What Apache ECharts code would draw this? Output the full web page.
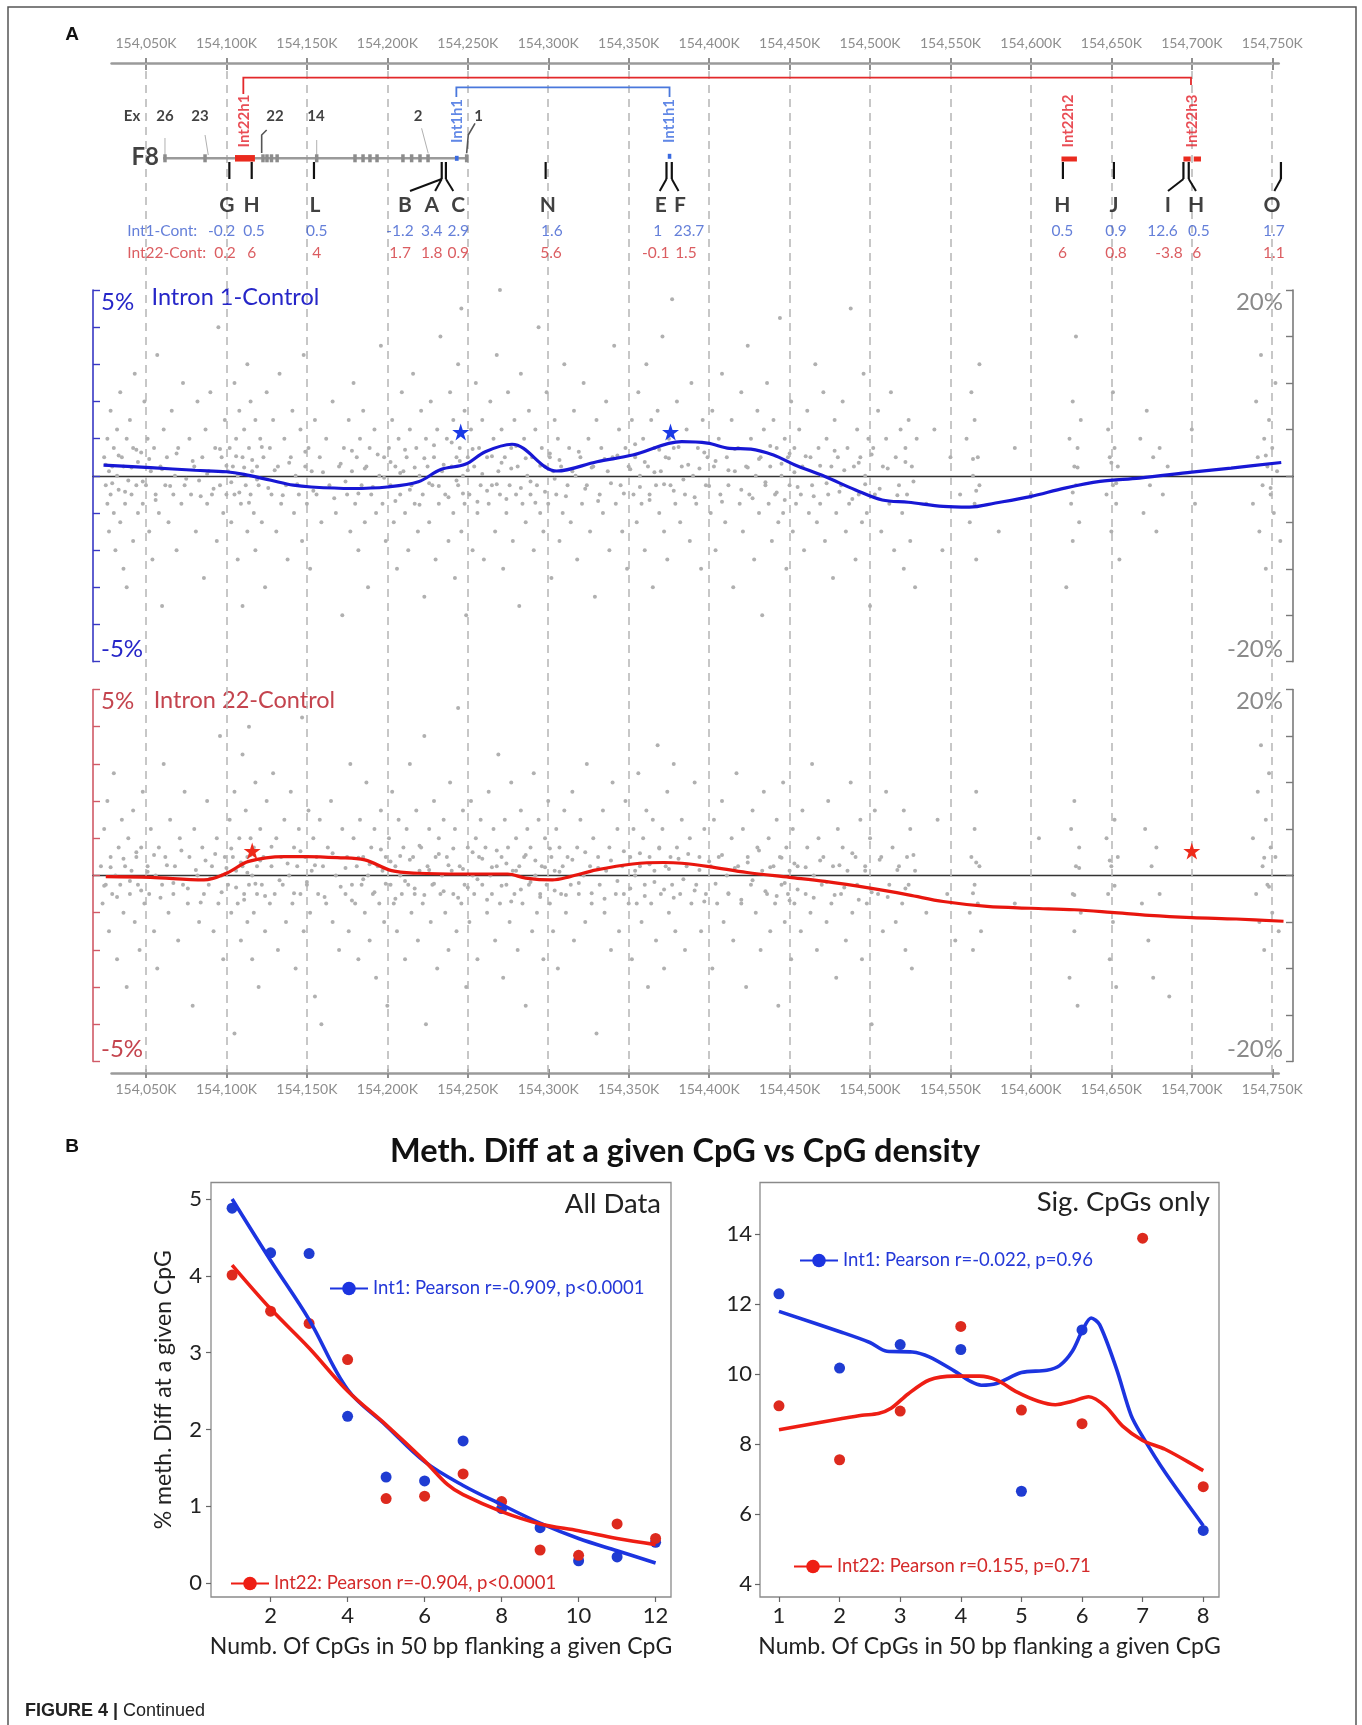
<!DOCTYPE html>
<html><head><meta charset="utf-8">
<script src="https://cdn.jsdelivr.net/npm/echarts@6/dist/echarts.min.js"></script>
<style>html,body{margin:0;padding:0;background:#fff}#c{width:1362px;height:1725px}</style>
</head><body><div id="c"></div>
<script>
// ================= DATA : panel A =================
const genomicTicks = [154050,154100,154150,154200,154250,154300,154350,154400,154450,154500,154550,154600,154650,154700,154750];
const geneF8 = [154060.6, 154250.1];
const exonPositions = [154061.8,154086.7,154122.7,154125.2,154128,154131.5,154156.1,154179.9,154184.9,154189.2,154193.6,154209.7,154215.1,154220.3,154225.3,154249.3];
const exonLabels = ['Ex','26','23','22','14','2','1'];
const exonLabelPos = [154041.3,154061.8,154083.6,154130.2,154155.7,154219.1,154256.7];
const exonLeaders = [[154061.8,154061.8],[154086.7,154088.7],[154125,154121.9,154121.9],[154156.1,154156.1],[154221.3,154225.4],[154254.5,154250.3,154249.3]];
const probeLetters = ['G','H','L','B','A','C','N','E','F','H','J','I','H','O'];
const probeLetterPos = [154100.2,154115.7,154155,154211,154227.6,154244.1,154299.7,154370,154381.9,154619.6,154651.6,154685.2,154702.6,154749.9];
const int1Cont = ['-0.2','0.5','0.5','-1.2','3.4','2.9','1.6','1','23.7','0.5','0.9','12.6','0.5','1.7'];
const int1ContPos = [154097,154117.1,154156.1,154207.9,154227.6,154244.1,154302.3,154368,154387.5,154619.6,154652.9,154681.8,154704.4,154751];
const int22Cont = ['0.2','6','4','1.7','1.8','0.9','5.6','-0.1','1.5','6','0.8','-3.8','6','1.1'];
const int22ContPos = [154099.1,154115.7,154156.1,154207.9,154227.6,154244.1,154301.7,154366.8,154385.6,154619.6,154652.9,154685.8,154703,154751];
const probeStems = [154101.8,154115.7,154154.4,154233.8,154236.4,154298.4,154373.5,154376.8,154619.9,154651.6,154694.8,154698.1,154755.4];
const probeBranches = [[154233.8,154214.1],[154233.8,154229.7],[154236.4,154241],[154373.5,154369.3],[154376.8,154381],[154694.8,154685.2],[154698.1,154702.6],[154755.4,154751.3]];
const int22Repeats = [[154105.3,154117.7],[154619,154628.6],[154694.8,154699.3],[154701.2,154705.7]];
const int1Repeats = [[154242.0,154244.3],[154374.3,154376.5]];
const repeatLabels = ['Int22h1','Int1h1','Int1h1','Int22h2','Int22h3'];
const repeatLabelPos = [154111.3,154243.7,154375.4,154623,154700];
const repeatLabelIsInt1 = [false,true,true,false,false];
const int22Bracket = [154110.5,154699.5];
const int1Bracket = [154242.9,154375.4];

// LOESS curves (left axis, %)
const loessInt1 = [[154023.6,0.29],[154052.8,0.22],[154080.5,0.15],[154100,0.11],[154111,0.04],[154127.7,-0.12],[154141.6,-0.25],[154152.7,-0.30],[154177.7,-0.34],[154199.9,-0.30],[154219.3,-0.16],[154233.2,0.17],[154248.4,0.31],[154260.9,0.65],[154277.5,0.85],[154305.3,0.13],[154330.3,0.38],[154352.5,0.56],[154383,0.92],[154399,0.88],[154412.7,0.74],[154426,0.72],[154440,0.56],[154453,0.30],[154472,-0.02],[154491,-0.38],[154507.6,-0.65],[154523.8,-0.71],[154545.5,-0.82],[154561.8,-0.84],[154578,-0.73],[154599.7,-0.56],[154621,-0.33],[154643,-0.15],[154667.5,-0.06],[154700,0.10],[154724.4,0.21],[154755.6,0.36]];
const loessInt22 = [[154025,-0.03],[154052.8,-0.05],[154086,-0.12],[154100,0.06],[154113.8,0.38],[154136,0.51],[154150,0.51],[154169,0.48],[154186,0.42],[154202.6,0.13],[154219,0.06],[154247,0.04],[154274.8,0.04],[154286,-0.07],[154302.5,-0.12],[154313.6,-0.03],[154330,0.15],[154352.5,0.31],[154372,0.35],[154383,0.33],[154400,0.24],[154423.6,0.08],[154450,-0.05],[154472,-0.16],[154500,-0.34],[154523.8,-0.52],[154545.5,-0.70],[154572.7,-0.83],[154600,-0.88],[154627,-0.92],[154650,-0.99],[154673.6,-1.07],[154700,-1.13],[154727.6,-1.17],[154757,-1.23]];
const starsInt1 = [[154245.6,1.18],[154376,1.18]];
const starsInt22 = [[154116,0.66],[154700,0.66]];

// single-CpG differences (right axis, %), position given as kb offset from 154,000K
const dotsInt1 = [[24,2],[25,-1],[26,4],[26,-3],[27,0.5],[27,-6],[28,7],[28,-2],[29,1],[30,-4],[30,3],[31,-8],[32,0],[32,5],[33,-1.5],[34,9],[34,-5],[35,2],[36,-10],[36,1],[37,-3],[38,4],[38,-12],[39,-0.5],[40,6],[41,-2],[42,3],[42,-7],[43,11],[44,-1],[45,-4],[45,1.5],
[47,2.5],[48,-3],[49,8],[50,-1],[51,4],[52,-6],[53,0.5],[54,-9],[55,3],[56,-2],[57,13],[58,-4],[59,1],[60,-14],[61,5],[62,-1],[63,2],[64,-5],[66,7],[67,-2],[68,0],[69,-8],[70,3],[72,-3],[73,10],[74,-1],
[77,4],[78,-2],[80,1],[81,-6],[82,8],[83,-0.5],[85,2],[86,-11],[87,5],[88,-3],[89,0.5],[90,9],[91,-2],[93,3],[94,-7],[95,16],[96,-1],[97,2],[98,-4],[99,6],[100,-2],[101,0.5],
[102,3],[103,-5],[104,1],[105,10],[105,-2],[106,4],[107,-9],[107,0],[108,7],[109,-3],[110,2],[110,-14],[111,5],[112,-1],[113,12],[113,-6],[114,3],[115,-2],[115,8],[116,0.5],[117,-4],[118,6],[118,-8],[119,1],[120,-1],[121,4],[122,-5],[123,2],[124,-12],[125,9],
[127,3],[128,-2],[129,6],[131,-6],[132,1],[133,11],[134,-3],[136,4],[137,-1],[138,-9],[140,2],[141,7],[142,-4],[143,0],[145,-2],[146,5],[147,-7],[148,13],[149,1],[150,-3],[151,3],[152,-10],[153,0.5],[155,6],[156,-2],[158,2],[159,-5],
[162,4],[164,-1],[166,8],[168,-4],[170,1],[172,-15],[173,3],[175,-2],[176,6],[177,-6],[178,0.5],[179,10],[180,-3],[181,2],[182,-8],[183,4],[184,-1],[185,7],[186,-5],[187,1],[188,-12],[189,3],[190,-2],[192,5],[193,-4],[195,0],[196,14],[197,-3],[198,2],[199,-7],
[201,3],[202,-1],[203,6],[204,-5],[205,1],[206,-10],[207,4],[208,-2],[209,9],[210,0.5],[211,-4],[212,2],[213,-8],[214,5],[215,-1],[216,11],[217,-3],[218,3],[219,-6],[220,0],[221,7],[222,-2],[223,-13],[224,4],[225,1],[226,-5],[227,8],[228,-1],[229,2],[230,-9],[231,5],[232,-3],[233,15],[234,0.5],
[236,-2],[237,4],[238,-7],[239,9],[240,1],[241,-4],[241,6],[242,-11],[243,2],[244,-1],[244,12],[245,3],[246,-6],[246,18],[247,0],[248,-3],[248,7],[249,-15],[250,2],[251,-2],[252,5],[253,-8],[254,1],[255,10],[256,-4],[257,3],[258,-1],[259,6],[260,-9],
[262,2],[263,-3],[264,8],[265,-1],[266,4],[267,-6],[268,13],[269,0.5],[270,-2],[270,20],[271,5],[272,-10],[273,2],[274,-4],[275,9],[276,-1],[277,3],[278,-7],[279,6],[280,-2],[281,1],[282,-14],[283,11],[284,-3],[285,4],[286,-5],[287,0],[288,7],[289,-2],[290,2],[291,-8],[292,5],[293,-1],[294,16],[295,-4],[296,3],[297,-6],[298,1],[299,9],[300,-3],[301,2],[302,-11],[303,0.5],[304,6],[305,-2],[306,4],[307,-7],[308,1],[309,-4],[310,12],
[312,-1],[313,3],[314,-5],[316,7],[317,0],[318,-9],[320,2],[321,-3],[322,10],[324,-1],[325,4],[326,-6],[328,1],[329,-13],[330,6],[332,-2],[333,3],[334,-4],[336,8],[337,0.5],[338,-8],[340,2],[341,14],[342,-3],[344,5],[345,-1],[346,-6],[348,3],[349,-10],[350,1],
[352,6],[353,-2],[354,2],[355,-5],[356,9],[357,0],[358,-3],[359,4],[360,-8],[361,12],[362,1],[363,-2],[364,6],[365,-12],[366,3],[367,-1],[368,7],[369,-4],[370,0.5],[371,15],[372,-6],[373,2],[374,-9],[375,4],[376,-1],[377,19],[378,3],[379,-3],[380,8],[382,-5],[383,1],[385,-2],[386,5],[388,-7],[389,10],[390,0],[392,-3],[393,3],[395,-10],[396,6],[398,-1],[399,2],
[401,-4],[402,7],[403,1],[404,-8],[406,4],[407,-2],[408,11],[410,-5],[411,2],[412,-1],[414,6],[415,-12],[416,0.5],[418,3],[419,-3],[420,9],[421,-6],[423,1],[424,14],[425,-2],[426,4],[428,-9],[429,0],[430,7],[431,-4],[432,2],[433,-15],[434,5],[435,-1],[436,10],[437,-3],[438,1],[439,-7],[440,6],[441,-2],[442,3],[443,-5],[444,17],[445,0],[446,-4],[447,4],[448,-10],[449,2],[450,-1],[451,8],[452,-6],[453,3],[454,-3],
[456,5],[457,-2],[458,1],[459,-8],[461,7],[462,-4],[463,2],[464,-1],[466,12],[467,-5],[468,3],[469,-3],[470,0],[471,9],[472,-7],[473,4],[474,-2],[476,1],[477,-11],[478,6],[479,-4],[480,2],[482,-1],[483,8],[485,-6],[486,3],[487,-3],[488,18],[490,1],[491,-9],[492,5],[493,-2],[494,2],[495,-5],[496,11],[497,0],[498,-4],[499,4],[500,-14],
[502,3],[503,-2],[505,7],[507,-6],[508,1],[510,4],[512,-3],[513,9],[515,-8],[516,2],[518,-1],[519,5],[520,-4],[521,-10],[522,3],[523,-2],[524,6],[525,-7],[526,1],[528,-12],[529,4],
[535,-3],[540,5],[545,-8],[550,2],[556,-2],[560,4],[562,-5],[563,9],[564,0],[565,-3],[565,6],[566,-9],[567,2],[568,-1],[568,12],[580,-6],[590,3],[600,-2],
[622,-12],[624,4],[625,-3],[626,8],[626,-7],[627,1],[628,-1],[628,15],[629,3],[630,-5],[631,6],
[647,-2],[648,5],[649,2],[650,-6],[651,9],[651,-1],[652,3],[653,-3],[654,1],[655,-9],
[668,4],[670,-4],[672,7],[674,-1],[676,2],[678,-6],[680,3],[682,-2],[685,1],[700,5],[702,-3],
[738,-3],[740,8],[741,2],[742,-6],[743,13],[744,-1],[745,4],[746,-10],[747,1],[748,6],[749,-2],[750,3],[751,-4],[752,10],[753,0.5],[755,-7],
[25,1.2],[29,-0.8],[33,2.2],[37,-1.7],[41,0.9],[44,2.8],[48,-0.6],[52,1.8],[56,-2.6],[60,0.7],[65,-1.1],[69,2.4],[75,-0.3],[79,1.6],[84,-2.2],[88,0.2],[92,-1.4],[96,2.9],[100,1.1],[103,-0.7],[106,2.1],[108,-1.8],[111,0.9],[114,-2.9],[116,1.7],[119,-0.4],[122,3.1],[126,-1.3],[130,0.6],[135,-2.1],[139,1.4],[144,-0.9],[149,2.6],[154,-1.6],[160,0.4],[167,-2.4],[171,1.3],[174,-0.6],[178,2.7],[182,-1.9],[186,0.8],[191,-1.2],[194,2.3],[198,-0.2],[202,1.5],[205,-2.7],[208,0.3],[211,2.8],[214,-1.5],[217,0.9],[220,-3.1],[223,1.9],[226,-0.8],[229,3.3],[232,-1.1],[235,1.2],[238,-2.3],[240,3.6],[243,-0.5],[245,1.6],[247,-1.9],[250,0.6],[253,2.9],[256,-2.8],[259,0.2],[262,-1.6],[265,2.1],[268,-0.9],[271,1.4],[274,-2.5],[277,0.8],[280,3.2],[283,-1.3],[286,1.9],[289,-0.6],[292,-2.9],[295,1.1],[298,-1.7],[301,2.4],[304,-0.3],[307,1.7],[311,-2.2],[315,0.5],[319,2.6],[323,-1.4],[327,0.9],[331,-2.7],[335,1.8],[339,-0.8],[343,2.2],[347,-1.9],[351,0.7],[354,3.4],[357,-1.2],[360,1.5],[363,-2.6],[366,0.4],[369,2.8],[372,-0.9],[375,1.9],[378,-1.6],[381,3.1],[384,-0.4],[387,1.2],[391,-2.3],[394,0.8],[397,2.5],[400,-1.1],[404,1.6],[408,-2.8],[412,0.6],[416,2.9],[420,-1.5],[424,0.9],[427,-2.4],[431,1.8],[435,-0.7],[438,3.2],[442,-1.8],[445,1.3],[447,-2.6],[450,2.4],[453,0.4],[455,-1.2],[460,2.1],[465,-2.2],[469,1.1],[473,-0.8],[478,2.7],[481,-1.7],[484,0.6],[489,-2.5],[493,1.4],[497,-0.9],[501,2.3],[506,-1.4],[511,0.8],[517,-2.1],[522,1.5],[527,-0.6],[564,1.8],[566,-1.6],[626,-1.8],[629,0.9],[650,1.4],[653,-0.8],[746,2.2],[749,-1.3]];

const dotsInt22 = [[22,1],[23,-3],[24,5],[25,-1],[26,8],[27,-6],[28,2],[29,-2],[30,11],[31,0],[32,-9],[33,3],[34,-1],[35,6],[36,-4],[37,1],[38,-12],[39,4],[40,-2],[41,0.5],[42,7],[43,-5],[44,2],[45,-1],[46,-8],[47,3],[48,9],[49,-3],
[51,1],[52,-2],[53,5],[55,-6],[56,0],[57,-10],[58,3],[60,-1],[61,12],[62,2],[64,-4],[65,6],[67,-2],[68,1],[70,-7],[71,4],[73,-1],[74,9],[76,-3],[77,2],[79,-14],[80,5],[82,0],[83,-5],[85,3],[86,-2],[88,8],[89,-1],[91,1],[92,-6],[94,4],[95,-3],[96,15],[97,0],[98,-9],[99,2],
[101,-1],[102,6],[103,-4],[104,2],[105,-17],[105,9],[106,0.5],[107,-3],[108,4],[109,-7],[110,13],[110,1],[111,-2],[112,7],[113,-5],[113,2],[114,16],[114,-1],[115,4],[116,-9],[116,0],[117,3],[117,-4],[118,10],[119,-2],[119,1],[120,-12],[121,5],[122,-1],[123,2],[124,-6],[125,8],
[127,-3],[128,1],[129,11],[130,-2],[131,4],[132,-8],[134,2],[135,-1],[136,6],[137,-5],[139,0],[140,9],[141,-3],[142,3],[143,-10],[144,1],[145,5],[146,-2],[147,17],[148,-6],[149,2],[150,-1],[151,7],[152,-4],[153,0.5],[154,4],[155,-13],[156,2],[157,-2],[158,6],[159,-16],[160,1],
[162,-3],[163,3],[165,8],[166,-5],[168,0],[170,-8],[172,5],[174,-2],[175,2],[176,-6],[177,12],[178,-1],[179,4],[180,-3],[181,1],[182,-9],[183,6],[184,-1],[185,2],[186,-4],[187,10],[188,0],[189,-7],[190,3],[191,-2],[192,5],[193,-11],[194,1],[195,-3],[196,7],[197,0.5],[198,-5],[199,2],
[200,-14],[201,4],[202,-1],[203,9],[204,-3],[205,1],[206,-6],[207,6],[208,0],[209,-2],[210,3],[211,-9],[212,5],[213,-1],[214,12],[215,-4],[216,2],[217,-2],[218,7],[219,-7],[220,0.5],[221,3],[222,-3],[223,15],[224,-16],[225,1],[226,5],[227,-5],[228,-1],[229,8],[230,2],[231,-10],[232,4],[233,-2],[234,0],[235,6],
[236,-4],[237,2],[238,-8],[239,10],[240,0.5],[241,-2],[242,5],[243,-6],[244,18],[245,1],[246,-3],[247,7],[248,-1],[249,-12],[250,3],[251,-5],[252,8],[253,0],[254,-2],[255,4],[256,-9],[257,2],[258,6],[259,-1],
[261,3],[262,-4],[263,9],[264,0],[265,-2],[266,5],[267,-7],[268,1],[269,13],[270,-3],[271,2],[272,-11],[273,6],[274,-1],[275,3],[276,-5],[277,10],[278,0.5],[279,-2],[280,4],[281,-8],[282,1],[283,7],[284,-3],[285,2],[286,-14],[287,5],[288,-1],[289,3],[290,-6],[291,11],[292,0],[293,-4],[294,6],[295,-2],[296,1],[297,-9],[298,4],[299,-1],[300,8],[301,-3],[302,2],[303,-6],[304,0.5],[305,5],[306,-10],[307,3],[308,-2],[309,1],[310,7],
[311,-4],[312,2],[314,-1],[315,9],[316,-7],[318,3],[319,-2],[320,6],[322,0],[323,-5],[324,12],[326,1],[327,-3],[328,4],[330,-17],[331,2],[332,-1],[334,7],[335,-4],[336,0.5],[338,3],[339,-8],[340,10],[342,-2],[343,5],[344,-6],[346,1],[347,-2],[348,8],[350,-3],
[351,2],[352,-9],[353,5],[354,0],[355,-3],[356,11],[357,1],[358,-5],[359,4],[360,-1],[361,7],[362,-12],[363,2],[364,-3],[365,6],[366,0.5],[367,-7],[368,14],[369,3],[370,-2],[371,5],[372,-10],[373,1],[374,9],[375,-4],[376,2],[377,-1],[378,12],[379,-6],[380,3],[382,-2],[383,6],[385,-8],[386,1],[388,4],[389,-3],[391,10],[392,-1],[394,2],[395,-6],[397,5],[398,-2],
[401,1],[402,-10],[403,6],[405,-3],[406,2],[408,8],[409,-5],[411,0],[412,-2],[414,4],[415,-7],[417,11],[418,1],[420,-3],[421,5],[423,-12],[424,2],[426,-1],[427,7],[429,-4],[430,3],[432,-8],[433,0.5],[434,9],[436,-2],[437,4],[438,-6],[440,1],[441,-3],[442,6],[443,-14],[444,2],[445,-1],[446,10],[447,-5],[448,3],[449,-2],[450,0.5],[451,-9],[452,5],[453,-3],
[455,1],[457,-6],[458,7],[460,-2],[461,3],[463,-4],[464,12],[465,0],[467,-8],[468,4],[470,-1],[471,2],[473,-5],[474,8],[476,-3],[477,1],[479,-11],[480,5],[482,-2],[483,3],[485,-7],[486,0.5],[488,10],[489,-4],[491,2],[492,-1],[494,6],[495,-9],[497,1],[498,-3],[500,4],[501,-16],[503,7],[505,-2],[507,2],[508,-6],[510,9],[512,-1],[514,3],[516,-5],[518,1],[520,-3],[521,7],[522,-8],[523,2],[524,-1],[525,5],[526,-10],[528,0.5],
[535,-4],[542,6],[548,-2],[553,-7],[562,-4],[563,2],[564,-8],[565,5],[565,-1],[566,9],[567,-3],[568,1],[569,-6],[590,-3],[605,4],
[624,-11],[625,5],[626,-2],[627,8],[627,-6],[628,1],[629,-14],[630,3],[631,-4],
[647,4],[648,-2],[649,-9],[650,1],[651,-5],[652,6],[653,-12],[654,2],
[669,-3],[671,5],[673,-7],[675,1],[676,-11],[678,3],[680,-2],[686,-13],
[738,4],[740,-2],[741,9],[742,-5],[743,14],[744,1],[745,-8],[746,6],[747,-1],[748,11],[749,3],[750,-4],[752,2],[754,-6],
[24,-1.1],[28,0.9],[32,-2.3],[36,1.8],[40,-0.6],[44,2.5],[47,-1.6],[51,0.4],[55,2.2],[59,-2.4],[63,1.1],[67,-0.8],[72,2.7],[76,-1.4],[81,0.6],[84,-2.9],[87,1.6],[90,-0.3],[93,2.3],[97,-1.8],[100,0.8],[103,2.9],[106,-1.3],[109,1.4],[111,-2.6],[113,0.3],[115,2.2],[118,-0.9],[121,1.6],[124,-2.2],[128,3.1],[133,-0.5],[138,1.3],[142,-1.9],[146,2.6],[150,-0.7],[155,1.1],[161,-2.3],[166,2.4],[171,-1.2],[174,0.8],[178,-2.7],[182,1.9],[185,-0.4],[189,1.2],[192,-1.8],[196,2.8],[199,-0.9],[202,1.5],[205,-2.5],[208,2.1],[211,-0.6],[214,1.7],[217,-1.4],[220,3.2],[223,-2.1],[226,0.6],[229,-0.9],[232,2.3],[235,-1.7],[238,1.1],[241,2.9],[244,-2.4],[247,0.7],[250,-1.3],[253,2.5],[256,-0.4],[259,1.8],[262,-2.6],[265,0.9],[268,2.7],[271,-1.1],[274,1.3],[277,-2.8],[280,0.5],[283,-1.5],[286,2.2],[289,-0.7],[292,1.6],[295,-2.3],[298,0.9],[301,2.9],[304,-1.6],[307,0.4],[311,-2.1],[315,1.7],[319,-0.8],[323,2.5],[327,-1.9],[331,0.8],[335,-2.5],[339,1.6],[343,-0.6],[347,2.6],[351,-1.4],[354,0.5],[357,2.4],[360,-2.2],[363,1.2],[366,-0.7],[369,2.9],[372,-1.5],[375,0.7],[378,-2.4],[381,1.8],[384,-0.4],[387,2.3],[391,-1.6],[394,0.6],[397,-2.8],[400,1.5],[404,-0.9],[408,2.2],[412,-1.9],[416,0.8],[420,-2.6],[424,1.4],[427,-0.5],[431,2.7],[435,-1.7],[438,0.9],[442,-2.2],[445,1.9],[447,-0.8],[450,-2.7],[453,1.3],[455,-1.5],[460,0.9],[465,-2.4],[469,1.6],[473,-0.7],[478,-2.1],[481,1.1],[484,-1.3],[489,2.4],[493,-2.6],[497,0.5],[501,-1.8],[506,1.7],[511,-2.3],[517,0.6],[522,-1.4],[527,2.2],[564,-1.9],[566,1.4],[627,-2.1],[630,0.8],[649,1.6],[652,-1.1],[745,1.9],[748,-1.2]];

// ================= DATA : panel B =================
const allInt1Pts  = [[1,4.88],[2,4.30],[3,4.29],[4,2.17],[5,1.38],[6,1.33],[7,1.85],[8,0.97],[9,0.72],[10,0.29],[11,0.34],[12,0.53]];
const allInt22Pts = [[1,4.01],[2,3.54],[3,3.38],[4,2.91],[5,1.10],[6,1.13],[7,1.42],[8,1.06],[9,0.43],[10,0.36],[11,0.77],[12,0.58]];
const allInt1Fit  = [[1,5.0],[2,4.2],[3,3.43],[4,2.52],[5,2.05],[6,1.58],[7,1.27],[8,1.02],[9,0.78],[10,0.58],[11,0.42],[12,0.26]];
const allInt22Fit = [[1,4.14],[2,3.57],[3,3.06],[4,2.5],[5,2.06],[6,1.59],[6.6,1.28],[7,1.15],[8,0.93],[9,0.77],[10,0.68],[11,0.58],[12,0.50]];
const sigInt1Pts  = [[1,12.29],[2,10.17],[3,10.84],[4,10.70],[5,6.65],[6,11.26],[8,5.53]];
const sigInt22Pts = [[1,9.09],[2,7.55],[3,8.94],[4,11.36],[5,8.97],[6,8.58],[7,13.88],[8,6.78]];
const sigInt1Fit  = [[1,11.79],[2.02,11.2],[2.5,10.9],[2.78,10.65],[3.2,10.63],[3.48,10.49],[3.89,10.09],[4.17,9.78],[4.34,9.68],[4.59,9.73],[5.0,10.04],[5.42,10.11],[5.63,10.24],[5.84,10.65],[6.01,11.26],[6.15,11.6],[6.29,11.41],[6.57,10.14],[6.81,8.82],[7.0,8.21],[7.37,7.19],[8.0,5.67]];
const sigInt22Fit = [[1,8.41],[2.02,8.72],[2.37,8.82],[2.64,8.87],[2.85,9.02],[3.13,9.43],[3.48,9.83],[3.89,9.94],[4.31,9.94],[4.59,9.83],[4.93,9.48],[5.28,9.22],[5.56,9.12],[5.84,9.22],[6.11,9.35],[6.39,9.07],[6.67,8.51],[7.0,8.1],[7.37,7.85],[8.0,7.24]];
const allTicksX = [2,4,6,8,10,12], allTicksY = [0,1,2,3,4,5];
const sigTicksX = [1,2,3,4,5,6,7,8], sigTicksY = [4,6,8,10,12,14];
const legAll1 = 'Int1: Pearson r=-0.909, p<0.0001', legAll22 = 'Int22: Pearson r=-0.904, p<0.0001';
const legSig1 = 'Int1: Pearson r=-0.022, p=0.96', legSig22 = 'Int22: Pearson r=0.155, p=0.71';

// ================= LAYOUT =================
const F = 'Lato, "Open Sans", sans-serif';
const G0 = 154000;
const GX = {left: 93, width: 1200, min: 154017.06, max: 154762.9};
const AX = {left: 111.6, width: 1167.1, min: 154028.6, max: 154754.0};
const ROW = {redBr: 77.7, redDropL: 94, redDropR: 85, blueBr: 87.3, blueDrop: 97, exonLbl: 116, repeatLbl: 121,
  gene: 158.3, rep: 159, stemTop: 162, stemBot: 179, branchEnd: 191, letter: 205, int1: 230.7, int22: 253.3};
const leaderRows = [[138,155],[135,155],[130,135,153],[140,155],[128.3,153.3],[123.3,135,153.3]];
const leaderDark = [false,false,true,false,false,true];
const BLUE_T = '#2626c8', RED_T = '#c4444e';
const kfmt = v => String(v).replace(/\B(?=(\d{3})+(?!\d))/g, ',') + 'K';
const STAR = 'path://M50,0 L61.2,34.5 L97.6,34.5 L68.2,55.9 L79.4,90.5 L50,69.1 L20.6,90.5 L31.8,55.9 L2.4,34.5 L38.8,34.5 Z';

function textSeries(names, xs, row, label) {
  return {type: 'scatter', xAxisIndex: 0, yAxisIndex: 0, symbolSize: 1, silent: true, z: 6,
    itemStyle: {color: 'rgba(0,0,0,0)'},
    label: Object.assign({show: true, position: 'inside', fontFamily: F, formatter: p => p.name}, label),
    data: names.map((n, i) => ({name: n, value: [xs[i], Array.isArray(row) ? row[i] : row]}))};
}
function seg(coords, color, width, extra) {
  return {coords, lineStyle: Object.assign({color, width, opacity: 1, cap: 'butt'}, extra || {})};
}

const headerLines = [];
headerLines.push(seg([[int22Bracket[0], ROW.redDropL],[int22Bracket[0], ROW.redBr],[int22Bracket[1], ROW.redBr],[int22Bracket[1], ROW.redDropR]], '#e3292b', 1.8));
headerLines.push(seg([[int1Bracket[0], ROW.blueDrop],[int1Bracket[0], ROW.blueBr],[int1Bracket[1], ROW.blueBr],[int1Bracket[1], ROW.blueDrop]], '#4a78dc', 1.8));
headerLines.push(seg([[geneF8[0], ROW.gene],[geneF8[1], ROW.gene]], '#9a9a9a', 2.6));
exonLeaders.forEach((gs, i) => headerLines.push(seg(gs.map((g, j) => [g, leaderRows[i][j]]), leaderDark[i] ? '#555' : '#b0b0b0', leaderDark[i] ? 1.6 : 1)));
int22Repeats.forEach((r, i) => headerLines.push(seg([[r[0], i === 0 ? ROW.gene : ROW.rep],[r[1], i === 0 ? ROW.gene : ROW.rep]], '#ea2a1e', i === 0 ? 6.5 : 5)));
int1Repeats.forEach((r, i) => headerLines.push(seg([[r[0], i === 0 ? ROW.gene : ROW.gene - 2],[r[1], i === 0 ? ROW.gene : ROW.gene - 2]], '#3a6ae0', 5)));
probeStems.forEach(g => headerLines.push(seg([[g, ROW.stemTop],[g, ROW.stemBot]], '#111', 2.2)));
probeBranches.forEach(b => headerLines.push(seg([[b[0], ROW.stemBot],[b[1], ROW.branchEnd]], '#111', 2)));

const series = [
  {type: 'lines', coordinateSystem: 'cartesian2d', xAxisIndex: 1, yAxisIndex: 1, silent: true, z: 1,
   lineStyle: {color: '#b9b9b9', width: 1.6, type: [8, 6], opacity: 1},
   data: genomicTicks.map(t => ({coords: [[t, 0],[t, 1]]}))},
  {type: 'lines', coordinateSystem: 'cartesian2d', xAxisIndex: 0, yAxisIndex: 0, polyline: true, silent: true, z: 4, data: headerLines},
  {type: 'scatter', xAxisIndex: 0, yAxisIndex: 0, symbol: 'rect', symbolSize: [3.5, 8], silent: true, z: 4,
   itemStyle: {color: '#8c8c8c', opacity: 1}, data: exonPositions.map(g => [g, ROW.gene])},
  textSeries(exonLabels, exonLabelPos, ROW.exonLbl, {fontSize: 15, fontWeight: 'bold', color: '#111'}),
  textSeries(repeatLabels, repeatLabelPos, ROW.repeatLbl, {fontSize: 15, fontWeight: 'bold', rotate: 90}),
  textSeries(['F8'], [154049.5], ROW.gene - 1, {fontSize: 24, fontWeight: 'bold', color: '#111'}),
  textSeries(probeLetters, probeLetterPos, ROW.letter, {fontSize: 21, fontWeight: 'bold', color: '#111'}),
  textSeries(int1Cont, int1ContPos, ROW.int1, {fontSize: 15.5, color: '#3d5fd0'}),
  textSeries(int22Cont, int22ContPos, ROW.int22, {fontSize: 15.5, color: '#d2343a'}),
  textSeries(['Int1-Cont:'], [154038], ROW.int1, {fontSize: 15.5, color: '#3d5fd0', position: 'right', distance: 0}),
  textSeries(['Int22-Cont:'], [154038], ROW.int22, {fontSize: 15.5, color: '#d2343a', position: 'right', distance: 0}),
  {type: 'scatter', xAxisIndex: 4, yAxisIndex: 4, symbolSize: 4, silent: true, z: 2,
   itemStyle: {color: '#b0b0b0', opacity: 1}, data: dotsInt1.map(d => [G0 + d[0], d[1]])},
  {type: 'line', xAxisIndex: 4, yAxisIndex: 3, smooth: 0.35, showSymbol: false, silent: true, z: 3,
   lineStyle: {color: '#1717d4', width: 3.2}, data: loessInt1},
  {type: 'scatter', xAxisIndex: 4, yAxisIndex: 3, symbol: STAR, symbolSize: 17, silent: true, z: 4,
   itemStyle: {color: '#1a3ae6', opacity: 1}, data: starsInt1},
  {type: 'scatter', xAxisIndex: 5, yAxisIndex: 6, symbolSize: 4, silent: true, z: 2,
   itemStyle: {color: '#b0b0b0', opacity: 1}, data: dotsInt22.map(d => [G0 + d[0], d[1]])},
  {type: 'line', xAxisIndex: 5, yAxisIndex: 5, smooth: 0.35, showSymbol: false, silent: true, z: 3,
   lineStyle: {color: '#e8160e', width: 3.2}, data: loessInt22},
  {type: 'scatter', xAxisIndex: 5, yAxisIndex: 5, symbol: STAR, symbolSize: 17, silent: true, z: 4,
   itemStyle: {color: '#ee2a1a', opacity: 1}, data: starsInt22},
  {name: 'pA1', type: 'scatter', xAxisIndex: 8, yAxisIndex: 8, symbolSize: 11, silent: true, z: 3, itemStyle: {color: '#1f3cd2', opacity: 1}, data: allInt1Pts},
  {name: 'pA22', type: 'scatter', xAxisIndex: 8, yAxisIndex: 8, symbolSize: 11, silent: true, z: 3, itemStyle: {color: '#dd2a1e', opacity: 1}, data: allInt22Pts},
  {name: legAll1, type: 'line', xAxisIndex: 8, yAxisIndex: 8, smooth: 0.35, symbol: 'circle', showSymbol: false, silent: true, z: 4,
   itemStyle: {color: '#1c34e0'}, lineStyle: {color: '#1c34e0', width: 3.6}, data: allInt1Fit},
  {name: legAll22, type: 'line', xAxisIndex: 8, yAxisIndex: 8, smooth: 0.35, symbol: 'circle', showSymbol: false, silent: true, z: 5,
   itemStyle: {color: '#ee1e14'}, lineStyle: {color: '#ee1e14', width: 3.6}, data: allInt22Fit},
  {name: 'pS1', type: 'scatter', xAxisIndex: 9, yAxisIndex: 9, symbolSize: 11, silent: true, z: 3, itemStyle: {color: '#1f3cd2', opacity: 1}, data: sigInt1Pts},
  {name: 'pS22', type: 'scatter', xAxisIndex: 9, yAxisIndex: 9, symbolSize: 11, silent: true, z: 3, itemStyle: {color: '#dd2a1e', opacity: 1}, data: sigInt22Pts},
  {name: legSig1, type: 'line', xAxisIndex: 9, yAxisIndex: 9, smooth: 0.3, symbol: 'circle', showSymbol: false, silent: true, z: 4,
   itemStyle: {color: '#1c34e0'}, lineStyle: {color: '#1c34e0', width: 3.6}, data: sigInt1Fit},
  {name: legSig22, type: 'line', xAxisIndex: 9, yAxisIndex: 9, smooth: 0.3, symbol: 'circle', showSymbol: false, silent: true, z: 5,
   itemStyle: {color: '#ee1e14'}, lineStyle: {color: '#ee1e14', width: 3.6}, data: sigInt22Fit}
];
series[4].data.forEach((d, i) => { d.label = {color: repeatLabelIsInt1[i] ? '#3a6ae0' : '#e3202a'}; });

const hidden = {show: false};
const noAx = {axisLine: hidden, axisTick: hidden, axisLabel: hidden, splitLine: hidden};
function genAxisTop(grid, pos, inside, len, labels, margin) {
  return {gridIndex: grid, type: 'value', position: pos, min: AX.min, max: AX.max,
    axisLine: {show: !inside, onZero: false, lineStyle: {color: '#9a9a9a', width: 2.6}},
    axisTick: {show: true, inside, length: len, customValues: genomicTicks, lineStyle: {color: '#8f8f8f', width: 2}},
    axisLabel: labels ? {show: true, customValues: genomicTicks, formatter: kfmt, margin, color: '#8d8d8d', fontSize: 14, fontFamily: F} : hidden,
    splitLine: hidden};
}
function pctAxis(grid, pos, max, interval, color, lblColor, margin) {
  return {gridIndex: grid, type: 'value', position: pos, min: -max, max, interval,
    axisLine: {show: true, onZero: false, lineStyle: {color, width: 1.6}},
    axisTick: {show: true, inside: true, length: 7, lineStyle: {color, width: 1.4}},
    axisLabel: {show: true, inside: true, customValues: [-max, max], formatter: '{value}%', color: lblColor, fontSize: 24, fontFamily: F, margin,
      verticalAlignMaxLabel: 'top', verticalAlignMinLabel: 'bottom'},
    splitLine: hidden};
}
function bAxis(grid, min, max, ticks, name, gap, margin) {
  return {gridIndex: grid, type: 'value', min, max, name, nameLocation: 'middle', nameGap: gap,
    nameTextStyle: {fontSize: 23, fontFamily: F, color: '#222'},
    axisLine: {show: false, onZero: false},
    axisTick: {show: true, length: 5, customValues: ticks, lineStyle: {color: '#666', width: 1.2}},
    axisLabel: {show: true, customValues: ticks, fontSize: 22, fontFamily: F, color: '#222', margin},
    splitLine: hidden};
}

const option = {
  backgroundColor: '#fff',
  animation: false,
  grid: [
    {left: GX.left, width: GX.width, top: 0, height: 300},
    {left: GX.left, width: GX.width, top: 63, height: 1010},
    {left: AX.left, width: AX.width, top: 63, height: 1},
    {left: GX.left, width: GX.width, top: 290, height: 371.7},
    {left: GX.left, width: GX.width, top: 689.5, height: 372},
    {left: AX.left, width: AX.width, top: 1072, height: 1},
    {left: 211, width: 460, top: 1182.5, height: 414.5, show: true, borderColor: '#8a8a8a', borderWidth: 1.3},
    {left: 760, width: 459, top: 1182.5, height: 414.5, show: true, borderColor: '#8a8a8a', borderWidth: 1.3}
  ],
  xAxis: [
    Object.assign({gridIndex: 0, type: 'value', min: GX.min, max: GX.max}, noAx),
    Object.assign({gridIndex: 1, type: 'value', min: GX.min, max: GX.max}, noAx),
    genAxisTop(2, 'top', false, 5, true, 13),
    genAxisTop(2, 'top', true, 7, false, 0),
    {gridIndex: 3, type: 'value', min: GX.min, max: GX.max, axisLine: {show: true, onZero: true, lineStyle: {color: '#333', width: 1.3}}, axisTick: hidden, axisLabel: hidden, splitLine: hidden},
    {gridIndex: 4, type: 'value', min: GX.min, max: GX.max, axisLine: {show: true, onZero: true, lineStyle: {color: '#333', width: 1.3}}, axisTick: hidden, axisLabel: hidden, splitLine: hidden},
    genAxisTop(5, 'bottom', false, 5, true, 9),
    genAxisTop(5, 'bottom', true, 4, false, 0),
    bAxis(6, 0.452, 12.4, allTicksX, 'Numb. Of CpGs in 50 bp flanking a given CpG', 38, 8),
    bAxis(7, 0.687, 8.26, sigTicksX, 'Numb. Of CpGs in 50 bp flanking a given CpG', 38, 8)
  ],
  yAxis: [
    Object.assign({gridIndex: 0, type: 'value', min: 0, max: 300, inverse: true}, noAx),
    Object.assign({gridIndex: 1, type: 'value', min: 0, max: 1}, noAx),
    Object.assign({gridIndex: 2, type: 'value', min: 0, max: 1}, noAx),
    pctAxis(3, 'left', 5, 1, '#3838c4', BLUE_T, 8),
    pctAxis(3, 'right', 20, 5, '#7a7a7a', '#8a8a8a', 10),
    pctAxis(4, 'left', 5, 1, '#d05a66', RED_T, 8),
    pctAxis(4, 'right', 20, 5, '#7a7a7a', '#8a8a8a', 10),
    Object.assign({gridIndex: 5, type: 'value', min: 0, max: 1}, noAx),
    bAxis(6, -0.182, 5.215, allTicksY, '% meth. Diff at a given CpG', 36, 9),
    bAxis(7, 3.629, 15.471, sigTicksY, '', 10, 8)
  ],
  legend: [
    {data: [legAll1], left: 324, top: 1274, itemWidth: 38, itemHeight: 17, selectedMode: false, textStyle: {color: '#2438d8', fontSize: 18.5, fontFamily: F}},
    {data: [legAll22], left: 225, top: 1569, itemWidth: 38, itemHeight: 17, selectedMode: false, textStyle: {color: '#d42a2a', fontSize: 18.5, fontFamily: F}},
    {data: [legSig1], left: 794, top: 1246, itemWidth: 38, itemHeight: 17, selectedMode: false, textStyle: {color: '#2438d8', fontSize: 18.5, fontFamily: F}},
    {data: [legSig22], left: 788, top: 1552, itemWidth: 38, itemHeight: 17, selectedMode: false, textStyle: {color: '#d42a2a', fontSize: 18.5, fontFamily: F}}
  ],
  series,
  graphic: [
    {type: 'polyline', silent: true, shape: {points: [[8, 1725],[8, 7],[1356, 7],[1356, 1725]]}, style: {stroke: '#555', lineWidth: 1.5, fill: null}},
    {type: 'text', x: 72, y: 35, silent: true, style: {text: 'A', fontSize: 19, fontWeight: 'bold', fontFamily: 'Liberation Sans, Arial', fill: '#111', align: 'center', verticalAlign: 'middle'}},
    {type: 'text', x: 72, y: 1147, silent: true, style: {text: 'B', fontSize: 19, fontWeight: 'bold', fontFamily: 'Liberation Sans, Arial', fill: '#111', align: 'center', verticalAlign: 'middle'}},
    {type: 'text', x: 151.5, y: 297, silent: true, style: {text: 'Intron 1-Control', fontSize: 23.5, fontFamily: F, fill: BLUE_T, align: 'left', verticalAlign: 'middle'}},
    {type: 'text', x: 153.7, y: 700, silent: true, style: {text: 'Intron 22-Control', fontSize: 23.5, fontFamily: F, fill: RED_T, align: 'left', verticalAlign: 'middle'}},
    {type: 'text', x: 685, y: 1152, silent: true, style: {text: 'Meth. Diff at a given CpG vs CpG density', fontSize: 32.5, fontWeight: 'bold', fontFamily: F, fill: '#111', align: 'center', verticalAlign: 'middle'}},
    {type: 'text', x: 661, y: 1204, silent: true, style: {text: 'All Data', fontSize: 27.5, fontFamily: F, fill: '#222', align: 'right', verticalAlign: 'middle'}},
    {type: 'text', x: 1210, y: 1202, silent: true, style: {text: 'Sig. CpGs only', fontSize: 27.5, fontFamily: F, fill: '#222', align: 'right', verticalAlign: 'middle'}},
    {type: 'text', x: 25, y: 1711, silent: true, style: {text: '{b|FIGURE 4 |} Continued', fontSize: 18, fontFamily: 'Liberation Sans, Arial', fill: '#222', align: 'left', verticalAlign: 'middle',
      rich: {b: {fontSize: 18, fontWeight: 'bold', fontFamily: 'Liberation Sans, Arial', fill: '#222'}}}}
  ]
};

const chart = echarts.init(document.getElementById('c'), null, {renderer: 'canvas', width: 1362, height: 1725});
chart.setOption(option);
</script>
</body></html>
